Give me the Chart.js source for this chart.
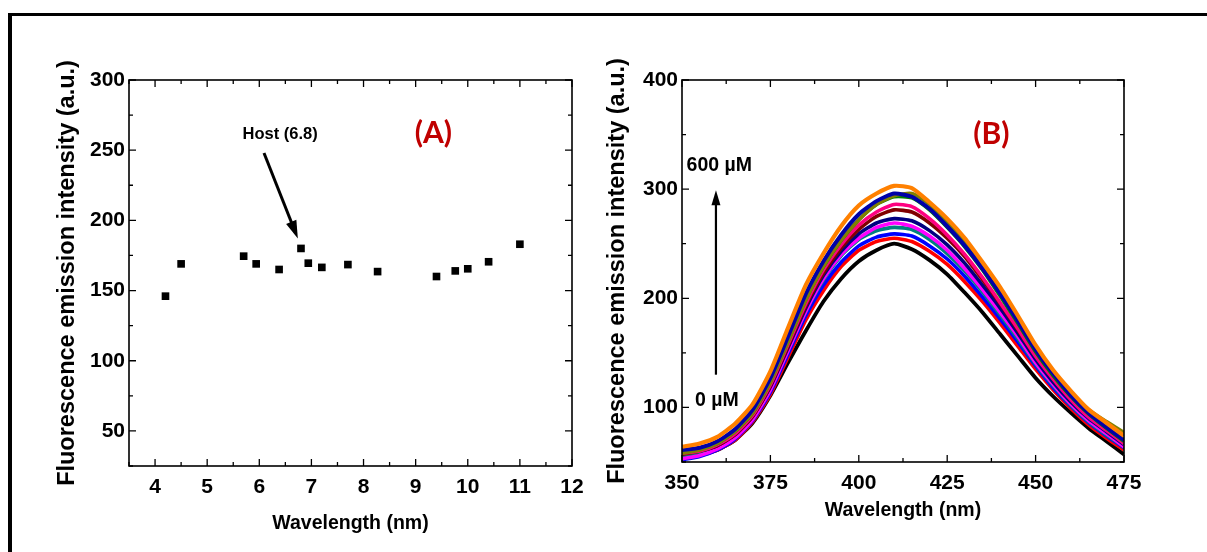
<!DOCTYPE html>
<html>
<head>
<meta charset="utf-8">
<title>Fluorescence emission</title>
<script src="https://cdn.jsdelivr.net/npm/chart.js@4.4.1/dist/chart.umd.min.js"></script>
<style>
  html, body { margin: 0; padding: 0; background: #fff; }
  #page { position: relative; width: 1207px; height: 552px; overflow: hidden; }
  #frame { position: absolute; left: 8px; top: 13px; width: 1220px; height: 560px;
           border-top: 3px solid #000; border-left: 4px solid #000; }
  #wrapA { position: absolute; left: 0; top: 0; width: 600px; height: 552px; }
  #wrapB { position: absolute; left: 600px; top: 0; width: 607px; height: 552px; }
</style>
</head>
<body>
<div id="page">
  <div id="frame"></div>
  <div id="wrapA"><canvas id="chartA" width="600" height="552"></canvas></div>
  <div id="wrapB"><canvas id="chartB" width="607" height="552"></canvas></div>
</div>

<script>
// ---- panel A: intensity vs size ----
var sizeA      = [4.2, 4.5, 5.7, 5.94, 6.38, 6.8, 6.94, 7.2, 7.7, 8.27, 9.4, 9.76, 10.0, 10.4, 11.0];
var intensityA = [146, 169, 174.5, 169, 165, 180, 169.5, 166.5, 168.5, 163.5, 160, 164, 165.5, 170.5, 183];
var xTicksA = [4, 5, 6, 7, 8, 9, 10, 11, 12];
var xMinorA = [3.5, 4.5, 5.5, 6.5, 7.5, 8.5, 9.5, 10.5, 11.5];
var yTicksA = [50, 100, 150, 200, 250, 300];
var yMinorA = [25, 75, 125, 175, 225, 275];

// ---- panel B: emission spectra, 0 uM (black) up to 600 uM (orange) ----
var wavelength = [350, 355, 360, 365, 370, 375, 380, 385, 390, 395, 400, 405, 410,
                  415, 420, 425, 430, 435, 440, 445, 450, 455, 460, 465, 470, 475];
var emBlack    = [55, 57, 61, 70, 86, 111, 141, 170, 197, 218, 234, 244, 250, 245, 235, 222, 205, 187, 167, 147, 127, 110, 95, 81, 69, 57];
var emRed      = [54, 56, 61, 70, 87, 112, 146, 180, 207, 229, 244, 252, 255, 252, 243, 231, 215, 197, 177, 156, 135, 116, 99, 84, 72, 61];
var emBlue     = [52, 55, 61, 71, 88, 114, 149, 184, 212, 233, 248, 256, 259, 257, 248, 236, 220, 201, 181, 160, 138, 118, 101, 86, 74, 63];
var emTeal     = [56, 58, 64, 74, 90, 117, 153, 188, 217, 239, 254, 262, 265, 263, 254, 241, 225, 206, 185, 163, 140, 120, 102, 87, 75, 64];
var emMagenta  = [53, 56, 62, 72, 89, 116, 152, 188, 218, 240, 255, 265, 269, 266, 257, 244, 227, 208, 187, 165, 141, 121, 103, 88, 76, 64];
var emNavy     = [58, 60, 65, 75, 92, 119, 155, 191, 221, 243, 259, 269, 273, 271, 262, 249, 232, 212, 191, 168, 144, 123, 105, 90, 78, 66];
var emMaroon   = [57, 60, 65, 75, 92, 120, 156, 193, 223, 246, 263, 275, 281, 279, 269, 255, 238, 217, 195, 171, 147, 126, 108, 92, 80, 68];
var emPink     = [58, 60, 66, 76, 93, 121, 158, 195, 226, 249, 267, 279, 286, 284, 273, 258, 240, 219, 196, 172, 147, 126, 107, 91, 79, 67];
var emGreen    = [59, 62, 67, 78, 95, 124, 161, 199, 229, 253, 272, 286, 293, 292, 281, 265, 247, 226, 202, 177, 151, 129, 110, 94, 81, 69];
var emOlive    = [58, 61, 67, 78, 95, 123, 160, 198, 229, 253, 272, 286, 294, 296, 286, 270, 252, 231, 207, 182, 156, 133, 114, 98, 87, 77];
var emDarkBlue = [61, 63, 69, 80, 98, 127, 165, 204, 234, 258, 277, 289, 296, 293, 282, 266, 248, 227, 204, 179, 153, 131, 111, 95, 82, 70];
var emOrange   = [64, 67, 73, 85, 103, 133, 173, 212, 241, 266, 285, 296, 303, 301, 288, 273, 255, 233, 210, 184, 157, 134, 115, 98, 86, 74];
var xTicksB = [350, 375, 400, 425, 450, 475];
var xMinorB = [362.5, 387.5, 412.5, 437.5, 462.5];
var yTicksB = [100, 200, 300, 400];
var yMinorB = [50, 150, 250, 350];

var FONT = "'Liberation Sans Narrow', 'Arial Narrow', 'Liberation Sans', Arial, sans-serif";

// box + inward ticks on all four sides
var framePlugin = {
  id: 'frame',
  afterDatasetsDraw: function (chart, args, o) {
    var ctx = chart.ctx, a = chart.chartArea, sx = chart.scales.x, sy = chart.scales.y;
    ctx.save();
    ctx.strokeStyle = '#000';
    ctx.lineWidth = 1.6;
    ctx.strokeRect(a.left, a.top, a.right - a.left, a.bottom - a.top);
    ctx.lineWidth = 1.3;
    ctx.beginPath();
    function xt(v, len) {
      var p = sx.getPixelForValue(v);
      ctx.moveTo(p, a.bottom); ctx.lineTo(p, a.bottom - len);
      ctx.moveTo(p, a.top); ctx.lineTo(p, a.top + len);
    }
    function yt(v, len) {
      var p = sy.getPixelForValue(v);
      ctx.moveTo(a.left, p); ctx.lineTo(a.left + len, p);
      ctx.moveTo(a.right, p); ctx.lineTo(a.right - len, p);
    }
    o.xMajor.forEach(function (v) { xt(v, 7); });
    o.xMinor.forEach(function (v) { xt(v, 4); });
    o.yMajor.forEach(function (v) { yt(v, 7); });
    o.yMinor.forEach(function (v) { yt(v, 4); });
    ctx.stroke();
    ctx.restore();
  }
};

// text labels and arrows placed in data coordinates
var notesPlugin = {
  id: 'notes',
  afterDraw: function (chart, args, o) {
    var ctx = chart.ctx, sx = chart.scales.x, sy = chart.scales.y;
    ctx.save();
    o.items.forEach(function (it) {
      if (it.arrow) {
        var x1 = sx.getPixelForValue(it.x1), y1 = sy.getPixelForValue(it.y1);
        var x2 = sx.getPixelForValue(it.x2), y2 = sy.getPixelForValue(it.y2);
        var ang = Math.atan2(y2 - y1, x2 - x1), c = Math.cos(ang), s = Math.sin(ang);
        var h = it.head, w = it.headW;
        ctx.strokeStyle = '#000'; ctx.fillStyle = '#000';
        ctx.lineWidth = it.width;
        ctx.beginPath();
        ctx.moveTo(x1, y1);
        ctx.lineTo(x2 - c * h * 0.8, y2 - s * h * 0.8);
        ctx.stroke();
        ctx.beginPath();
        ctx.moveTo(x2, y2);
        ctx.lineTo(x2 - c * h + s * w / 2, y2 - s * h - c * w / 2);
        ctx.lineTo(x2 - c * h - s * w / 2, y2 - s * h + c * w / 2);
        ctx.closePath();
        ctx.fill();
      } else {
        ctx.font = it.font;
        ctx.fillStyle = it.color || '#000';
        ctx.textAlign = it.align || 'center';
        ctx.textBaseline = 'middle';
        ctx.fillText(it.text, sx.getPixelForValue(it.x), sy.getPixelForValue(it.y));
      }
    });
    ctx.restore();
  }
};

function axisX(min, max, ticks, height, titlePad) {
  return {
    type: 'linear', min: min, max: max,
    afterFit: function (s) { s.height = height; },
    afterBuildTicks: function (s) { s.ticks = ticks.map(function (v) { return { value: v }; }); },
    grid: { display: false, drawTicks: false },
    border: { display: false },
    ticks: { color: '#000', padding: 9, font: { family: FONT, size: 21, weight: 'bold' } },
    title: { display: true, text: 'Wavelength (nm)', color: '#000',
             font: { family: FONT, size: 19.5, weight: 'bold' }, padding: { top: 0, bottom: titlePad } }
  };
}
function axisY(min, max, ticks, width, titlePad) {
  return {
    type: 'linear', min: min, max: max,
    afterFit: function (s) { s.width = width; },
    afterBuildTicks: function (s) { s.ticks = ticks.map(function (v) { return { value: v }; }); },
    grid: { display: false, drawTicks: false },
    border: { display: false },
    ticks: { color: '#000', padding: 4, font: { family: FONT, size: 21, weight: 'bold' } },
    title: { display: true, text: 'Fluorescence emission intensity (a.u.)', color: '#000',
             font: { family: FONT, size: 23.5, weight: 'bold' }, padding: { top: titlePad, bottom: 0 } }
  };
}

new Chart(document.getElementById('chartA'), {
  type: 'scatter',
  data: {
    datasets: [{
      data: sizeA.map(function (v, i) { return { x: v, y: intensityA[i] }; }),
      pointStyle: 'rect', pointRadius: 5.4, pointBorderWidth: 0,
      backgroundColor: '#000', borderColor: '#000'
    }]
  },
  options: {
    responsive: false, animation: false, events: [],
    layout: { padding: { left: 0, top: 80, right: 28, bottom: 0 } },
    scales: {
      x: axisX(3.5, 12, xTicksA, 86, 17),
      y: axisY(25, 300, yTicksA, 129, 53)
    },
    plugins: {
      legend: { display: false }, tooltip: { enabled: false },
      frame: { xMajor: xTicksA, xMinor: xMinorA, yMajor: yTicksA, yMinor: yMinorA },
      notes: { items: [
        { text: 'Host (6.8)', x: 6.40, y: 261.2, font: 'bold 16.5px ' + FONT },
        { text: '(A)', x: 9.34, y: 262, color: '#C00000', font: 'bold 30px Lato, sans-serif' },
        { arrow: true, x1: 6.09, y1: 248, x2: 6.74, y2: 187, width: 3, head: 18, headW: 11 }
      ] }
    }
  },
  plugins: [framePlugin, notesPlugin]
});

var seriesB = [
  { d: emOrange,   c: '#FF8000', w: 4.2 },
  { d: emDarkBlue, c: '#0000A8', w: 4 },
  { d: emOlive,    c: '#808000', w: 3.6 },
  { d: emGreen,    c: '#008000', w: 3.6 },
  { d: emPink,     c: '#FF0080', w: 3.6 },
  { d: emMaroon,   c: '#800000', w: 3.6 },
  { d: emNavy,     c: '#000080', w: 3.6 },
  { d: emMagenta,  c: '#FF00FF', w: 3.6 },
  { d: emTeal,     c: '#008080', w: 3.8 },
  { d: emBlue,     c: '#0000FF', w: 3.6 },
  { d: emRed,      c: '#FF0000', w: 3.6 },
  { d: emBlack,    c: '#000000', w: 3.8 }
];

new Chart(document.getElementById('chartB'), {
  type: 'line',
  data: {
    datasets: seriesB.map(function (s) {
      return {
        data: wavelength.map(function (v, i) { return { x: v, y: s.d[i] }; }),
        borderColor: s.c, borderWidth: s.w, pointRadius: 0, tension: 0.2, fill: false
      };
    })
  },
  options: {
    responsive: false, animation: false, events: [],
    layout: { padding: { left: 0, top: 80, right: 83, bottom: 0 } },
    scales: {
      x: axisX(350, 475, xTicksB, 90, 30),
      y: axisY(50, 400, yTicksB, 82, 3)
    },
    plugins: {
      legend: { display: false }, tooltip: { enabled: false },
      frame: { xMajor: xTicksB, xMinor: xMinorB, yMajor: yTicksB, yMinor: yMinorB },
      notes: { items: [
        { text: '(B)', x: 437.5, y: 350.3, color: '#C00000', font: 'bold 30px Lato, sans-serif' },
        { text: '600 \u00B5M', x: 351.3, y: 322, align: 'left', font: 'bold 19.5px ' + FONT },
        { text: '0 \u00B5M', x: 353.7, y: 106.3, align: 'left', font: 'bold 19.5px ' + FONT },
        { arrow: true, x1: 359.6, y1: 130, x2: 359.6, y2: 299, width: 2.2, head: 15, headW: 9 }
      ] }
    }
  },
  plugins: [framePlugin, notesPlugin]
});
</script>
</body>
</html>
